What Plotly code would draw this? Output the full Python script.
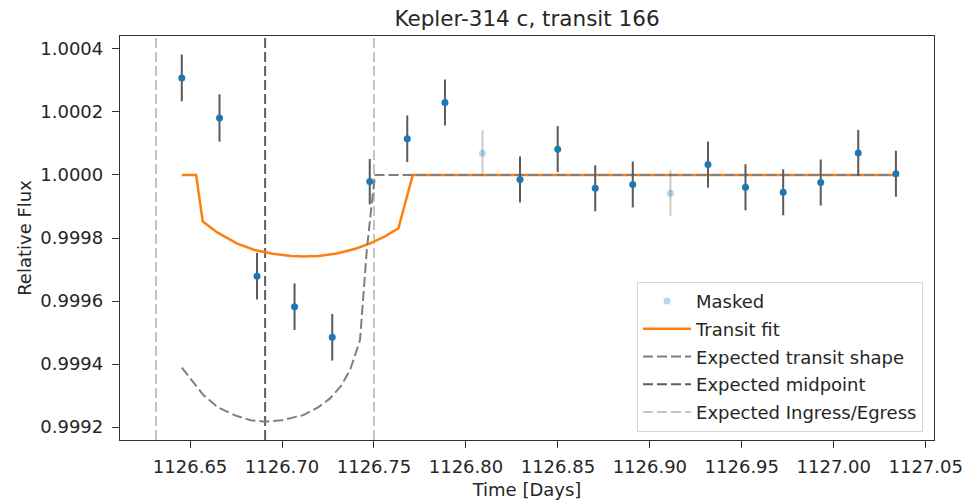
import plotly.graph_objects as go

# Binned photometry around the transit
time = [1126.6455, 1126.6660, 1126.6864, 1126.7068, 1126.7273, 1126.7477,
        1126.7681, 1126.7886, 1126.8090, 1126.8294, 1126.8499, 1126.8703,
        1126.8907, 1126.9112, 1126.9316, 1126.9520, 1126.9725, 1126.9929,
        1127.0133, 1127.0338]
flux = [1.000308, 1.000181, 0.999679, 0.999582, 0.999485, 0.999979,
        1.000115, 1.000230, 1.000069, 0.999986, 1.000082, 0.999958,
        0.999970, 0.999942, 1.000033, 0.999961, 0.999945, 0.999976,
        1.000070, 1.000004]
flux_err = [0.000074, 0.000075, 0.000074, 0.000074, 0.000074, 0.000072,
            0.000074, 0.000073, 0.000073, 0.000073, 0.000073, 0.000073,
            0.000073, 0.000073, 0.000073, 0.000073, 0.000073, 0.000073,
            0.000073, 0.000073]
masked = [False, False, False, False, False, False, False, False, True, False,
          False, False, False, True, False, False, False, False, False, False]

# Fitted transit model
fit_time = [1126.6455, 1126.6533, 1126.6569, 1126.6650, 1126.6754, 1126.6850,
            1126.6950, 1126.7050, 1126.7116, 1126.7200, 1126.7298, 1126.7400,
            1126.7479, 1126.7560, 1126.7633, 1126.7711, 1127.0338]
fit_flux = [1.000000, 1.000000, 0.999852, 0.999817, 0.999783, 0.999762,
            0.999750, 0.999743, 0.999741, 0.999743, 0.999751, 0.999766,
            0.999783, 0.999805, 0.999831, 1.000000, 1.000000]

# Expected transit shape from the ephemeris
exp_time = [1126.6455, 1126.6572, 1126.6650, 1126.6754, 1126.6830, 1126.6908,
            1126.7000, 1126.7116, 1126.7200, 1126.7261, 1126.7320, 1126.7370,
            1126.7424, 1126.7451, 1126.7461, 1126.7490, 1126.7506, 1127.0338]
exp_flux = [0.999389, 0.999302, 0.999263, 0.999235, 0.999222, 0.999217,
            0.999222, 0.999238, 0.999264, 0.999291, 0.999330, 0.999381,
            0.999476, 0.999677, 0.999762, 0.999921, 1.000000, 1.000000]

t_mid = 1126.6908
t_ingress = 1126.6315
t_egress = 1126.7500

x_range = [1126.6119, 1127.0545]
y_range = [0.999159, 1.000441]

FONT = "DejaVu Sans"
TXT = "#262626"
DASH = "10px,4px"

fig = go.Figure()

mx = [t for t, m in zip(time, masked) if m]
my = [f for f, m in zip(flux, masked) if m]
me = [e for e, m in zip(flux_err, masked) if m]
ux = [t for t, m in zip(time, masked) if not m]
uy = [f for f, m in zip(flux, masked) if not m]
ue = [e for e, m in zip(flux_err, masked) if not m]

# Ingress / egress markers
fig.add_trace(go.Scatter(
    x=[t_ingress, t_ingress, None, t_egress, t_egress],
    y=[y_range[0], y_range[1], None, y_range[0], y_range[1]],
    mode="lines", line=dict(color="#c4c4c4", width=2, dash=DASH),
    name="Expected Ingress/Egress", legendgroup="e", legendrank=5))

# Midpoint marker
fig.add_trace(go.Scatter(
    x=[t_mid, t_mid], y=y_range, mode="lines",
    line=dict(color="#5e5e5e", width=2, dash=DASH),
    name="Expected midpoint", legendgroup="d", legendrank=4))

# Transit fit
fig.add_trace(go.Scatter(
    x=fit_time, y=fit_flux, mode="lines",
    line=dict(color="#ff7f0e", width=2.5),
    name="Transit fit", legendgroup="b", legendrank=2))

# Expected transit shape
fig.add_trace(go.Scatter(
    x=exp_time, y=exp_flux, mode="lines",
    line=dict(color="#7f7f7f", width=2, dash=DASH),
    name="Expected transit shape", legendgroup="c", legendrank=3))

# Masked points
fig.add_trace(go.Scatter(
    x=mx, y=my, mode="markers",
    marker=dict(color="rgba(31,119,180,0.3)", size=7),
    error_y=dict(type="data", array=me, visible=True, width=0,
                 thickness=2, color="rgba(80,80,80,0.3)"),
    name="Masked", legendgroup="a", legendrank=1))

# Unmasked points
fig.add_trace(go.Scatter(
    x=ux, y=uy, mode="markers",
    marker=dict(color="#1f77b4", size=7),
    error_y=dict(type="data", array=ue, visible=True, width=0,
                 thickness=2, color="#5a5a5a"),
    showlegend=False, name="Data"))

axis_common = dict(
    showgrid=False, zeroline=False, showline=True, mirror=True,
    linecolor="#333333", linewidth=1.3, ticks="outside", ticklen=7,
    tickwidth=1.3, tickcolor="#333333", automargin=False,
    tickfont=dict(family=FONT, size=18, color=TXT),
)

fig.update_layout(
    width=966, height=500,
    margin=dict(l=120, r=32, t=36, b=60),
    plot_bgcolor="white", paper_bgcolor="white",
    font=dict(family=FONT, size=18, color=TXT),
    title=dict(text="Kepler-314 c, transit 166", x=(120 + 934) / 2 / 966,
               xanchor="center", y=1 - 18 / 500, yanchor="middle",
               font=dict(family=FONT, size=21.5, color=TXT)),
    xaxis=dict(range=x_range, tick0=1126.65, dtick=0.05, tickformat=".2f",
               ticklabelstandoff=3,
               title=dict(text="Time [Days]", standoff=9,
                          font=dict(family=FONT, size=18, color=TXT)),
               **axis_common),
    yaxis=dict(range=y_range, tick0=0.9992, dtick=0.0002, tickformat=".4f",
               ticklabelstandoff=5,
               title=dict(text="Relative Flux", standoff=3,
                          font=dict(family=FONT, size=18, color=TXT)),
               **axis_common),
    legend=dict(x=0.9865, y=0.02, xanchor="right", yanchor="bottom",
                bgcolor="rgba(255,255,255,0.85)", bordercolor="#d6d6d6",
                borderwidth=1, font=dict(family=FONT, size=18, color=TXT),
                traceorder="grouped", tracegroupgap=1.3, itemwidth=48),
    showlegend=True,
)

fig.write_html("out.html")
